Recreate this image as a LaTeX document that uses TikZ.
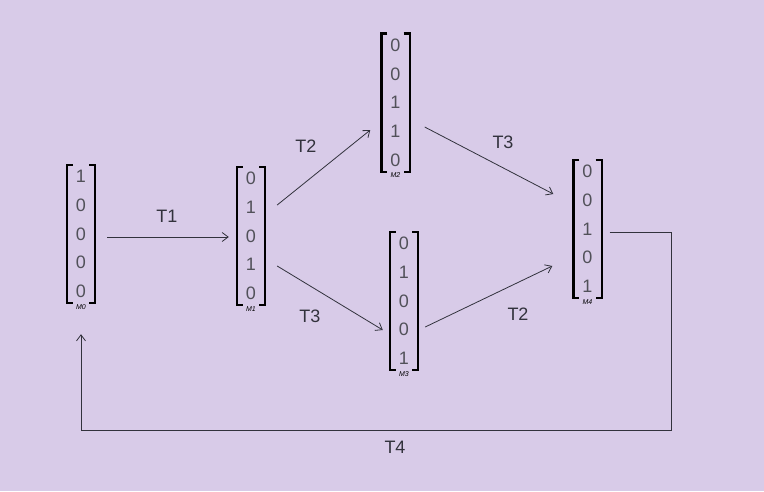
\documentclass[tikz,border=0pt]{standalone}
\usepackage{fontspec}
\setmainfont{Liberation Sans}
\usetikzlibrary{arrows.meta,positioning}

\definecolor{lavender}{RGB}{216,203,232}
\definecolor{ink}{RGB}{50,50,60}

\tikzset{
  marking/.style={inner sep=0pt, minimum width=28pt, minimum height=138pt, align=center,
    text=ink!85, font=\fontsize{18}{28.7}\selectfont},
  bracket/.style={line width=2.4pt, black},
  trans/.style={draw=ink, line width=0.8pt, -{Straight Barb[length=6pt,width=9pt]}},
  translabel/.style={text=ink, font=\fontsize{18}{20}\selectfont},
  mlabel/.style={font=\fontsize{7}{8}\selectfont\itshape, inner sep=0pt, below, yshift=-1pt}
}

\begin{document}
\begin{tikzpicture}[x=1pt, y=-1pt]
        \fill[lavender] (0,0) rectangle (764,491);
        \useasboundingbox (0,0) rectangle (764,491);

        % markings
        \node[marking] (m0) at (81,234) {1\\0\\0\\0\\0};
        \node[marking] (m1) at (251,236) {0\\1\\0\\1\\0};
        \node[marking] (m2) at (395.5,102.5) {0\\0\\1\\1\\0};
        \node[marking] (m3) at (404,301) {0\\1\\0\\0\\1};
        \node[marking] (m4) at (587.5,229) {0\\0\\1\\0\\1};

        \foreach \m/\t in {m0/M0,m1/M1,m2/M2,m3/M3,m4/M4} {
          \draw[bracket] ([xshift=6pt]\m.north west) -- (\m.north west) -- (\m.south west) -- ([xshift=6pt]\m.south west);
          \draw[bracket] ([xshift=-6pt]\m.north east) -- (\m.north east) -- (\m.south east) -- ([xshift=-6pt]\m.south east);
          \node[mlabel] at (\m.south) {\t};
        }

        % transitions
        \draw[trans] ([xshift=12pt,yshift=-3pt]m0.east) -- ([xshift=-8pt,yshift=-1pt]m1.west);
        \draw[trans] ([xshift=12pt,yshift=31pt]m1.east) -- ([xshift=-11pt,yshift=-27.5pt]m2.west);
        \draw[trans] ([xshift=12pt,yshift=-30pt]m1.east) -- ([xshift=-7pt,yshift=-29pt]m3.west);
        \draw[trans] ([xshift=15pt,yshift=-24.5pt]m2.east) -- ([xshift=-20pt,yshift=35pt]m4.west);
        \draw[trans] ([xshift=7pt,yshift=-26pt]m3.east) -- ([xshift=-21pt,yshift=-37pt]m4.west);

        \coordinate (back) at ([xshift=8pt,yshift=-3pt]m4.east);
        \draw[trans] (back) -- ++(62,0) |- ([yshift=-127pt]m0.south) -- ([yshift=-31pt]m0.south);

        \node[translabel] (t1) at (167,216) {T1};
        \node[translabel] (t2a) at (306,146) {T2};
        \node[translabel] (t3a) at (310,316) {T3};
        \node[translabel] (t3b) at (503,142) {T3};
        \node[translabel] (t2b) at (518,314) {T2};
        \node[translabel] (t4) at (395,447) {T4};
\end{tikzpicture}
\end{document}
